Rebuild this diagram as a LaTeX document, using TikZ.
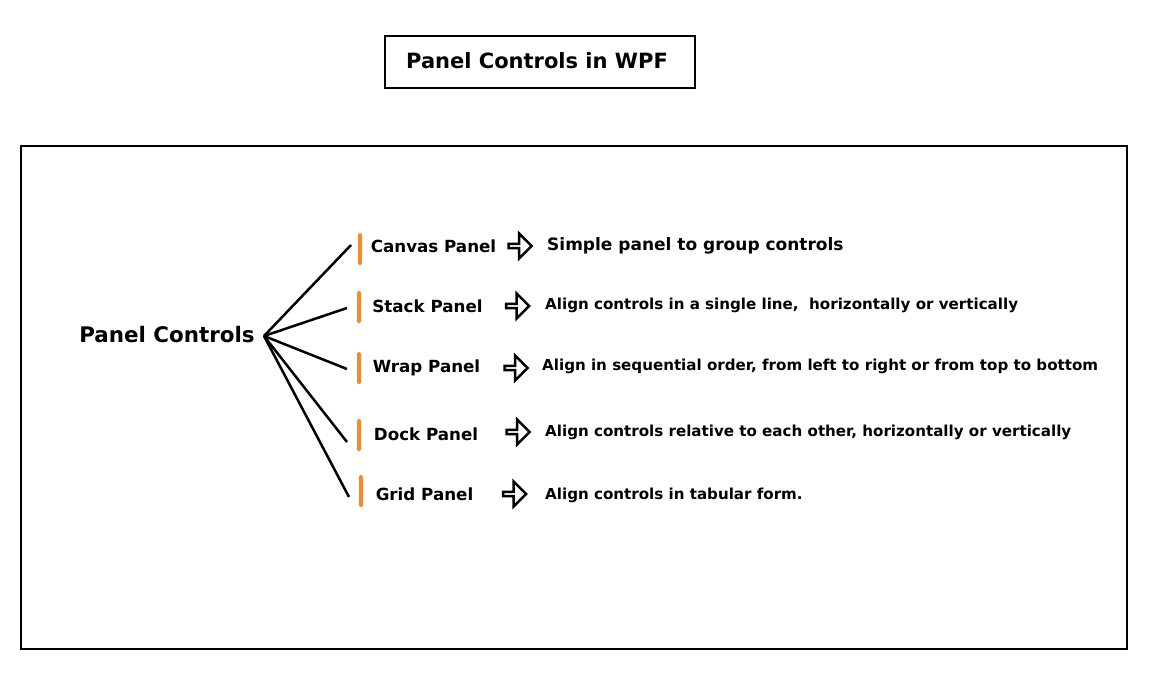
\documentclass[tikz,border=0pt]{standalone}
\usepackage{fontspec}
\setmainfont{DejaVu Sans}
\usetikzlibrary{shapes.arrows}
\definecolor{barorange}{HTML}{F58A2A}
\begin{document}
\begin{tikzpicture}[x=1pt,y=-1pt,
  box/.style={draw=black,line width=2pt},
  lbl/.style={font=\bfseries\fontsize{16.7}{19}\selectfont,inner sep=0pt},
  desc/.style={font=\bfseries\fontsize{15.1}{17}\selectfont,inner sep=0pt,anchor=west},
  bar/.style={fill=barorange,draw=none,rounded corners=1.5pt,minimum width=4pt,minimum height=32pt,inner sep=0pt},
  branch/.style={line width=2.5pt,black},
  harrow/.style={single arrow,draw=black,fill=white,line width=2.5pt,minimum height=23pt,minimum width=25pt,single arrow head extend=6pt,inner sep=0pt,shape border rotate=0}
]
\useasboundingbox (0,0) rectangle (1152,673);
% title
\node[box,minimum width=310pt,minimum height=52pt,inner sep=0pt] (title) at (540,62) {};
\node[font=\bfseries\fontsize{21}{24}\selectfont,inner sep=0pt] (titletext) at (537,61) {Panel Controls in WPF};
% frame
\node[box,minimum width=1106pt,minimum height=503pt,inner sep=0pt] (frame) at (574,397.5) {};
% root
\node[font=\bfseries\fontsize{21.4}{24}\selectfont,inner sep=0pt] (root) at (167,335) {Panel Controls};
\coordinate (hub) at (264,336);
% bars
\node[bar] (b1) at (360,249) {};
\node[bar] (b2) at (359,307) {};
\node[bar] (b3) at (359,368) {};
\node[bar] (b4) at (359,435) {};
\node[bar] (b5) at (361,491) {};
% line ends
\coordinate (e1) at (351,245);
\coordinate (e2) at (347,308);
\coordinate (e3) at (347,369);
\coordinate (e4) at (347,442);
\coordinate (e5) at (349,497);
\foreach \i in {1,...,5} \draw[branch] (hub) -- (e\i);
% labels
\node[lbl] (l1) at (433.5,246) {Canvas Panel};
\node[lbl] (l2) at (427.5,306) {Stack Panel};
\node[lbl] (l3) at (426.5,368) {Wrap Panel};
\node[lbl] (l4) at (426,434) {Dock Panel};
\node[lbl] (l5) at (424.5,494) {Grid Panel};
% arrows
\node[harrow] (a1) at (519,246) {};
\node[harrow] (a2) at (516.5,306) {};
\node[harrow] (a3) at (515,368) {};
\node[harrow] (a4) at (517,432) {};
\node[harrow] (a5) at (513.5,494) {};
% descriptions
\node[desc,font=\bfseries\fontsize{17}{20}\selectfont] (d1) at (547,246) {Simple panel to group controls};
\node[desc] (d2) at (545,305) {Align controls in a single line,\ \ horizontally or vertically};
\node[desc] (d3) at (542,366) {Align in sequential order, from left to right or from top to bottom};
\node[desc] (d4) at (545,432) {Align controls relative to each other, horizontally or vertically};
\node[desc] (d5) at (545,495) {Align controls in tabular form.};
\end{tikzpicture}
\end{document}
